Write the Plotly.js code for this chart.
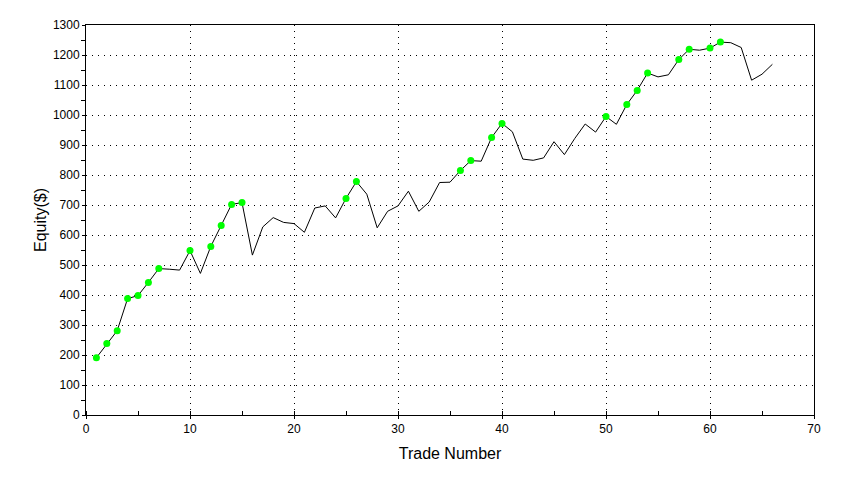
<!DOCTYPE html>
<html>
<head>
<meta charset="utf-8">
<script src="https://cdn.plot.ly/plotly-3.0.1.min.js"></script>
<style>html,body{margin:0;padding:0;background:#fff;}#chart{width:846px;height:477px;}</style>
</head>
<body>
<div id="chart"></div>
<script>
const tradeNumbers = [1,2,3,4,5,6,7,8,9,10,11,12,13,14,15,16,17,18,19,20,21,22,23,24,25,26,27,28,29,30,31,32,33,34,35,36,37,38,39,40,41,42,43,44,45,46,47,48,49,50,51,52,53,54,55,56,57,58,59,60,61,62,63,64,65,66];
const equity = [191,238,281,388,398,442,488,486,483,548,472,562,632,702,708,533,627,658,642,638,609,690,697,657,722,778,736,624,679,697,746,679,710,775,776,815,848,846,925,972,944,853,849,857,911,868,922,970,943,995,969,1035,1082,1140,1127,1134,1185,1219,1216,1223,1243,1241,1225,1116,1136,1169];
const highTrades = [1,2,3,4,5,6,7,10,12,13,14,15,25,26,36,37,39,40,50,52,53,54,57,58,60,61];
const highEquity = highTrades.map(t => equity[tradeNumbers.indexOf(t)]);

const font = {family: 'Arial, "Liberation Sans", sans-serif', color: '#000'};
const data = [
  {x: tradeNumbers, y: equity, type: 'scatter', mode: 'lines', line: {color: '#000', width: 1}, hoverinfo: 'skip'},
  {x: highTrades, y: highEquity, type: 'scatter', mode: 'markers', marker: {color: '#00ff00', size: 7, line: {width: 0}}}
];
const layout = {
  width: 846, height: 477,
  margin: {l: 86, r: 32, t: 25, b: 62},
  paper_bgcolor: '#fff', plot_bgcolor: '#fff',
  showlegend: false,
  font: Object.assign({size: 12}, font),
  xaxis: {
    range: [0, 70], dtick: 10, tick0: 0,
    showline: true, mirror: true, linecolor: '#000', linewidth: 1,
    showgrid: true, gridcolor: '#000', gridwidth: 1, griddash: '1px,5px',
    zeroline: false,
    ticks: 'outside', ticklen: 3, tickcolor: '#000',
    minor: {dtick: 5, ticks: 'inside', ticklen: 4, tickcolor: '#000', showgrid: false},
    tickfont: Object.assign({size: 12}, font),
    title: {text: 'Trade Number', font: Object.assign({size: 16}, font), standoff: 12}
  },
  yaxis: {
    range: [0, 1300], dtick: 100, tick0: 0,
    showline: true, mirror: true, linecolor: '#000', linewidth: 1,
    showgrid: true, gridcolor: '#000', gridwidth: 1, griddash: '1px,5px',
    zeroline: false,
    ticks: 'outside', ticklen: 3, tickcolor: '#000',
    minor: {dtick: 50, ticks: 'outside', ticklen: 4, tickcolor: '#000', showgrid: false},
    tickfont: Object.assign({size: 12}, font),
    title: {text: 'Equity($)', font: Object.assign({size: 16}, font), standoff: 2}
  }
};
Plotly.newPlot('chart', data, layout, {displayModeBar: false, staticPlot: true});
</script>
</body>
</html>
